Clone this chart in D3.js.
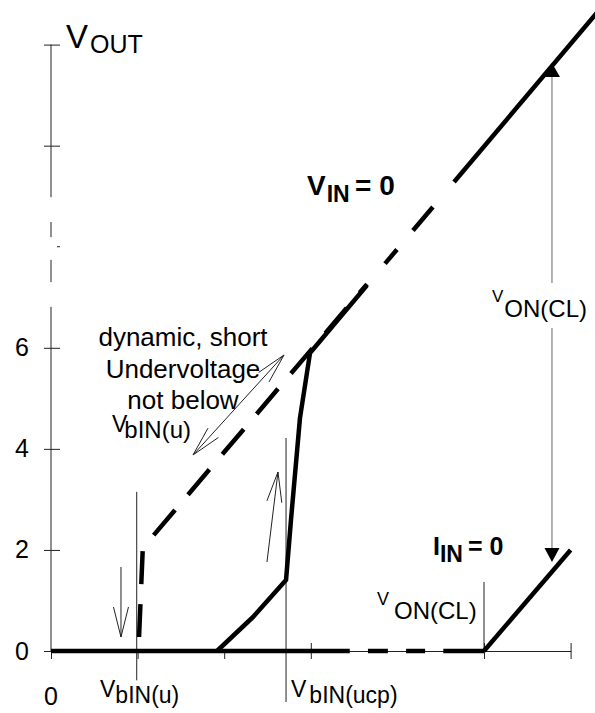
<!DOCTYPE html>
<html lang="en">
<head>
<meta charset="UTF-8">
<title>VOUT characteristic</title>
<script src="https://d3js.org/d3.v7.min.js"></script>
<style>
    body { margin: 0; padding: 0; background: white; }
    svg { display: block; font-family: "Liberation Sans", Arial, sans-serif; }
    .thick { fill: none; stroke: #000; stroke-width: 4.5; stroke-linejoin: round; }
    .thin { fill: none; stroke: #222; stroke-width: 1; }
    .axis line, .axis path { stroke: #222; stroke-width: 1; }
</style>
</head>
<body>
<div id="chart"></div>
<script>
// axes (x in steps of V_IN units, y = VOUT)
const xTicks = [0, 1, 2, 3, 5, 6];
const yTicks = [0, 2, 4, 6, 10, 12];
const yTickLabels = ["0", "2", "4", "6"];
const yAxisPieces = [[0, 6.81], [7.30, 7.74], [8.19, 8.49], [8.98, 12]];

// thick line lying on the x axis, dashed near the right end
const floorPieces = [[0, 3.45], [3.66, 3.89], [4.10, 4.32], [4.53, 5.0]];

// solid curve rising after V_bIN(ucp)
const riseCurve = [[1.917, 0], [2.333, 0.673], [2.714, 1.405], [2.771, 2.592],
                   [2.875, 4.611], [2.991, 5.897], [3.649, 7.237]];
// dashed curve: dynamic, short undervoltage
const dynCurve = [[1.01, 0], [1.06, 2.04], [3.649, 7.26]];
// dashed part where the y axis is broken
const breakDashes = [[[3.857, 7.665], [3.995, 7.945]], [[4.18, 8.32], [4.41, 8.787]]];
// V_IN = 0 line above the break
const vinLine = [[4.654, 9.282], [6.36, 12.745]];
// I_IN = 0 line
const iinLine = [[5.0, 0], [6.0, 2.0]];

// thin vertical markers
const markerX = [0.99, 2.714, 5.0];
const markerLow = [-0.58, -1.01, 0];
const markerHigh = [3.15, 4.215, 1.366];

// V_ON(CL) dimension arrow
const vonX = 5.785;
const vonTop = 11.637;
const vonBottom = 1.76;
const vonGap = [6.392, 7.283];

// open arrows [from, to]
const singleArrows = [[[0.808, 1.662], [0.808, 0.277]], [[2.494, 1.761], [2.621, 3.542]]];
const doubleArrow = [[1.640, 3.879], [2.691, 5.858]];

const width = 595, height = 713;

const svg = d3.select('#chart').append('svg')
    .attr('width', width)
    .attr('height', height);

const x = d3.scaleLinear().domain([0, 6]).range([51, 570.6]);
const y = d3.scaleLinear().domain([0, 12]).range([651, 44.6]);

const line = d3.line().x(d => x(d[0])).y(d => y(d[1]));

// x axis
const xAxis = svg.append('g')
    .attr('class', 'axis')
    .attr('transform', `translate(0,${y(0)})`)
    .call(d3.axisBottom(x).tickValues(xTicks).tickSize(8).tickSizeOuter(0).tickFormat(''));
xAxis.selectAll('.tick line').attr('y1', d => d >= 3 ? -8 : 0);

// y axis: ticks from d3, the broken line drawn in pieces
const yAxis = svg.append('g')
    .attr('class', 'axis')
    .attr('transform', `translate(${x(0)},0)`)
    .call(d3.axisLeft(y).tickValues(yTicks).tickSize(7).tickFormat(''));
yAxis.select('.domain').remove();
yAxis.selectAll('.tick line').attr('x1', 9);
yAxis.selectAll('.axis-piece')
    .data(yAxisPieces)
    .enter().append('line')
    .attr('x1', 0).attr('x2', 0)
    .attr('y1', d => y(d[0])).attr('y2', d => y(d[1]))
    .attr('stroke', '#222');
yAxis.append('line')
    .attr('x1', 6).attr('x2', 9)
    .attr('y1', y(8)).attr('y2', y(8))
    .attr('stroke', '#222');

svg.selectAll('.ylab')
    .data(yTickLabels)
    .enter().append('text')
    .attr('x', 29)
    .attr('y', (d, i) => y(yTicks[i]) + 8.5)
    .attr('text-anchor', 'end')
    .attr('font-size', 25)
    .text(d => d);

svg.append('text')
    .attr('x', x(0)).attr('y', 705)
    .attr('text-anchor', 'middle')
    .attr('font-size', 25)
    .text('0');

// thin marker lines
svg.selectAll('.marker')
    .data(markerX)
    .enter().append('line')
    .attr('class', 'thin')
    .attr('x1', d => x(d)).attr('x2', d => x(d))
    .attr('y1', (d, i) => y(markerLow[i]))
    .attr('y2', (d, i) => y(markerHigh[i]));

// curves
svg.selectAll('.floor')
    .data(floorPieces)
    .enter().append('line')
    .attr('class', 'thick')
    .attr('x1', d => x(d[0])).attr('x2', d => x(d[1]))
    .attr('y1', y(0)).attr('y2', y(0))
    .style('stroke-linecap', 'butt');

svg.append('path').attr('class', 'thick').attr('d', line(riseCurve));
svg.append('path').attr('class', 'thick')
    .attr('d', line(dynCurve))
    .attr('stroke-dasharray', '33,20')
    .attr('stroke-dashoffset', 39)
    .style('stroke-linejoin', 'miter');
svg.selectAll('.brk')
    .data(breakDashes)
    .enter().append('path')
    .attr('class', 'thick')
    .attr('d', d => line(d));
svg.append('path').attr('class', 'thick').attr('d', line(vinLine));
svg.append('path').attr('class', 'thick').attr('d', line(iinLine));

// open arrowheads
function openHead(from, tip, len, half) {
    const dx = from[0] - tip[0], dy = from[1] - tip[1];
    const n = Math.hypot(dx, dy);
    const ux = dx / n, uy = dy / n;
    const bx = tip[0] + ux * len, by = tip[1] + uy * len;
    return `M${bx - uy * half},${by + ux * half}L${tip[0]},${tip[1]}L${bx + uy * half},${by - ux * half}`;
}
const px = p => [x(p[0]), y(p[1])];

singleArrows.forEach(a => {
    svg.append('path').attr('class', 'thin').attr('d', line(a));
    svg.append('path').attr('class', 'thin').attr('d', openHead(px(a[0]), px(a[1]), 30, 7.5));
});
svg.append('path').attr('class', 'thin').attr('d', line(doubleArrow));
svg.append('path').attr('class', 'thin').attr('d', openHead(px(doubleArrow[1]), px(doubleArrow[0]), 30, 7));
svg.append('path').attr('class', 'thin').attr('d', openHead(px(doubleArrow[0]), px(doubleArrow[1]), 30, 7));

// V_ON(CL) dimension arrow
svg.append('line').attr('class', 'thin').style('stroke', '#666')
    .attr('x1', x(vonX)).attr('x2', x(vonX))
    .attr('y1', y(vonTop) + 12).attr('y2', y(vonGap[1]));
svg.append('line').attr('class', 'thin').style('stroke', '#666')
    .attr('x1', x(vonX)).attr('x2', x(vonX))
    .attr('y1', y(vonGap[0])).attr('y2', y(vonBottom) - 12);
svg.append('path')
    .attr('d', `M${x(vonX)},${y(vonTop)}l-8,14h16z`)
    .attr('fill', '#000');
svg.append('path')
    .attr('d', `M${x(vonX)},${y(vonBottom)}l-7.5,-14h15z`)
    .attr('fill', '#000');

// labels
function subLabel(xp, yp, main, mainSize, sub, subSize, dy, dx, bold) {
    const t = svg.append('text')
        .attr('x', xp).attr('y', yp)
        .attr('font-size', mainSize)
        .attr('font-weight', bold ? 'bold' : 'normal')
        .text(main);
    t.append('tspan').attr('font-size', subSize).attr('dy', dy).attr('dx', dx).text(sub);
    return t;
}

subLabel(66, 48, 'V', 33, 'OUT', 25, 5, 2, false);

const note = ['dynamic, short', 'Undervoltage', 'not below'];
svg.selectAll('.note')
    .data(note)
    .enter().append('text')
    .attr('x', 183)
    .attr('y', (d, i) => 346 + i * 31.5)
    .attr('text-anchor', 'middle')
    .attr('font-size', 26)
    .text(d => d);
subLabel(112, 432, 'V', 23, 'bIN(u)', 24, 6, -3, false);

subLabel(100, 697, 'V', 23, 'bIN(u)', 23, 6, 0, false);
subLabel(291, 697, 'V', 23, 'bIN(ucp)', 23, 6, 3, false);

subLabel(492, 302, 'V', 17, 'ON(CL)', 24, 15, 1, false);
subLabel(377, 605, 'V', 18, 'ON(CL)', 24, 14, 5, false);

const vin = subLabel(307, 195, 'V', 28, 'IN', 23, 7, 1, true);
vin.append('tspan').attr('x', 355).attr('dy', -7).text('= 0');
const iin = subLabel(433, 555, 'I', 25, 'IN', 23, 7, 0, true);
iin.append('tspan').attr('x', 468).attr('dy', -7).attr('font-size', 25).text('= 0');
</script>
</body>
</html>
